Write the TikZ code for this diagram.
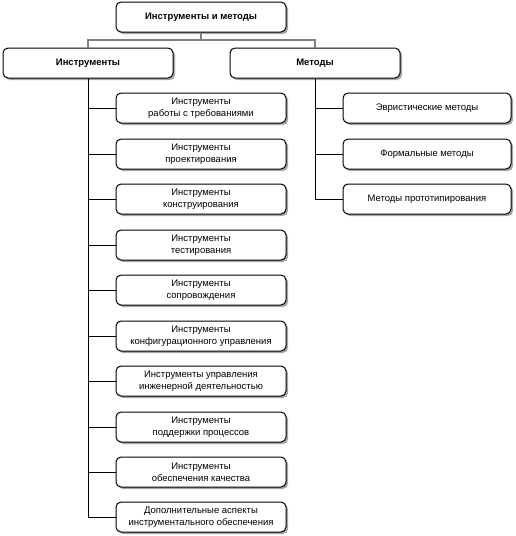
\documentclass[tikz,border=0pt]{standalone}
\usepackage{fontspec}
\setmainfont{Liberation Sans}
\usetikzlibrary{shadows}
\begin{document}
\begin{tikzpicture}[x=1pt,y=-1pt,
  box/.style={draw=black,line width=1pt,rounded corners=5pt,fill=white,
    minimum width=170pt,minimum height=30pt,align=center,inner sep=1pt,
    font=\fontsize{9.5}{12}\selectfont,
    drop shadow={shadow xshift=2pt,shadow yshift=-2pt,fill=gray!70,opacity=1}},
  rbox/.style={box,minimum width=168pt},
  hbox/.style={box,font=\bfseries\fontsize{9.5}{12}\selectfont},
  link/.style={draw=black,line width=0.8pt},
  toplink/.style={draw=gray,line width=1.2pt}]
\useasboundingbox (0,0) rectangle (516,536);
\node[hbox] (root) at (201,17) {Инструменты и методы};
\node[hbox] (tools) at (88,63) {Инструменты};
\node[hbox] (meth) at (315,63) {Методы};
\coordinate (bar) at (201,40);
\draw[toplink] (root.south) -- (bar);
\draw[toplink] (tools.north) |- (bar) -| (meth.north);
\foreach \n/\y/\t in {t1/108/{Инструменты\\работы с требованиями},
  t2/154/{Инструменты\\проектирования},
  t3/199/{Инструменты\\конструирования},
  t4/245/{Инструменты\\тестирования},
  t5/290/{Инструменты\\сопровождения},
  t6/336/{Инструменты\\конфигурационного управления},
  t7/381/{Инструменты управления\\инженерной деятельностью},
  t8/427/{Инструменты\\поддержки процессов},
  t9/472/{Инструменты\\обеспечения качества},
  t10/517/{Дополнительные аспекты\\инструментального обеспечения}}{
  \node[box] (\n) at (201,\y) {\t};
  \draw[link] (tools.south) |- (\n.west);
}
\foreach \n/\y/\t in {m1/108/{Эвристические методы},
  m2/154/{Формальные методы},
  m3/199/{Методы прототипирования}}{
  \node[rbox] (\n) at (427,\y) {\t};
  \draw[link] (meth.south) |- (\n.west);
}
\end{tikzpicture}
\end{document}
